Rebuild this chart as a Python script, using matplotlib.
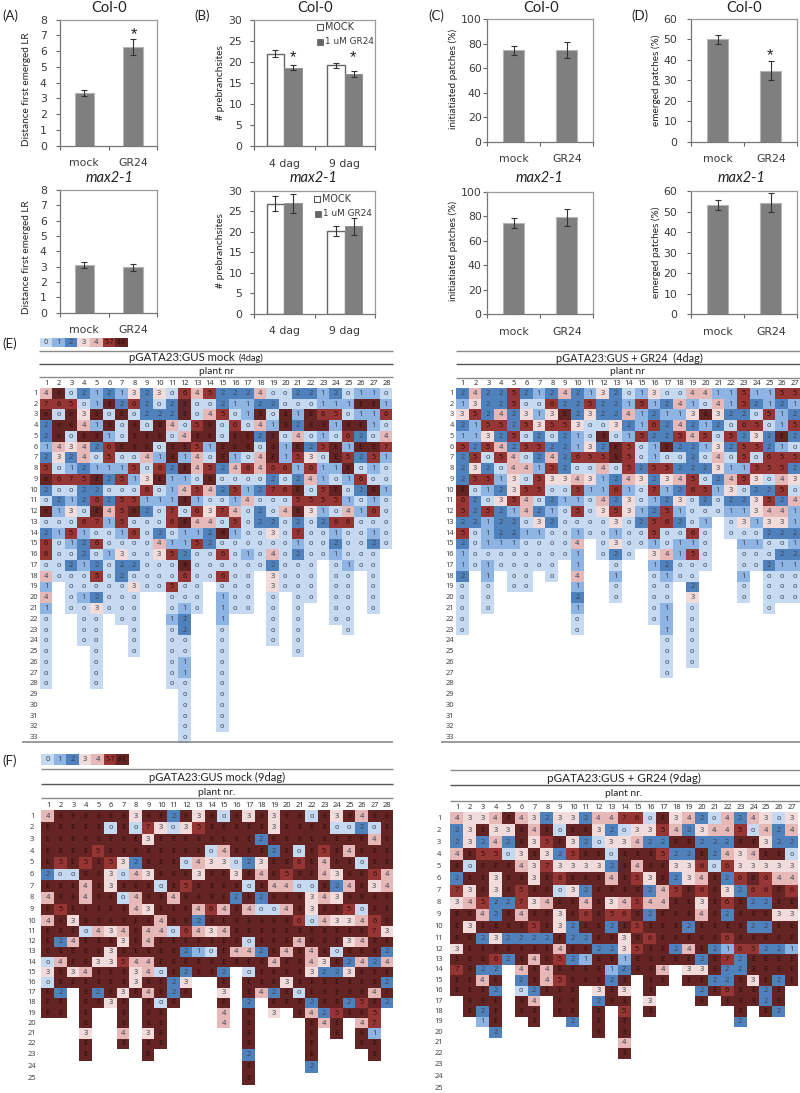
import numpy as np
import matplotlib
matplotlib.use("Agg")
import matplotlib.pyplot as plt
from matplotlib.colors import ListedColormap, BoundaryNorm
from matplotlib.patches import Rectangle

# ---------- data ----------
treatments = ['mock', 'GR24']
days = ['4 dag', '9 dag']
series_names = ['MOCK', '1 uM GR24']

a_col = [3.35, 6.25];  a_col_err = [0.18, 0.5]
a_max = [3.1, 2.95];   a_max_err = [0.2, 0.2]
b_col_mock = [22.0, 19.3]; b_col_mock_err = [0.9, 0.6]
b_col_gr = [18.7, 17.1];   b_col_gr_err = [0.5, 0.7]
b_max_mock = [26.8, 20.1]; b_max_mock_err = [1.8, 1.2]
b_max_gr = [26.9, 21.3];   b_max_gr_err = [2.3, 2.0]
c_col = [74.7, 75.0];  c_col_err = [3.5, 6.8]
c_max = [74.3, 79.0];  c_max_err = [4.0, 6.8]
d_col = [50.0, 34.7];  d_col_err = [2.2, 4.7]
d_max = [53.2, 54.5];  d_max_err = [2.4, 4.7]

legend_labels = ['0', '1', '2', '3', '4', '5-7', '8-E']

e_mock = [
"4eo21 21323 o6452 224oo 2212o 11o",
"765o1 E262o 2Eoo2 1122o oo111 EE1",
"eoe3E oEo22 2Eo45 o1EoE 1E65o 116",
"2ee41 EoEo8 4o5Eo 6o41E 2EE1E E1o",
"2eoEE 1oEEE o4EEo EE2Eo 4o1o6 2o4",
"14342 6EEEo EE51E E8o81 E25E1 EE7",
"2324o 5oo41 E14oE 1o4E1 53oE5 251",
"5o121 115o6 2E452 46466 16118 o1o",
"e675E 2513E 11o8o ooo2o 241o1 6oo",
"2oo22 ooo6o 14542 51276 Eo5Eo 2E1",
"o2126 25511 1E1oo 14ooo 55551 o1o",
"e13oE 4582o 7o637 4o2o4 831o4 16o",
"ooo67 15ooo 6E44o 5o22o 2o266 ooo",
"2151o o16o2 o1128 1oo3o 7oo1o o1o",
"6o126 oooo4 1152o ooooo 1oo2o o2o",
"6oo2o 13oo3 52oo6 o1o4o 2oo1o oo.",
"oo212 o22oo o8ooo ooo2o oo.o1 oo.",
"4ooo5 o2ooo o6oo6 oo.3o oo.oo .o.",
"1.ooo oo3oo 5oo.o oo.3o oo.oo .o.",
"4.o12 ooo.. ooo.1 oo.o. oo.oo .o.",
"1.oo3 ooo.. o1o.1 oo.o. o..oo .o.",
"o..oo .oo.. 12..1 ...o. o..oo ...",
"o..oo ..o.. o2..o ...o. o...o ...",
"o..oo ..o.. oo..o ...o. o.... ...",
"o...o ..o.. oo..o ..... o.... ...",
"o...o ..... o1..o ..... ..... ...",
"o...o ..... o1..o ..... ..... ...",
"o...o ..... oo..o ..... ..... ...",
"..... ..... .o..o ..... ..... ...",
"..... ..... .o..o ..... ..... ...",
"..... ..... .o..o ..... ..... ...",
"..... ..... .o..o ..... ..... ...",
"..... ..... .o... ..... ..... ...",
]

e_gr = [
"24225 21242 132o1 3oo44 11511 55",
"13225 oo622 52215 1241o 41521 21",
"35242 313E2 32241 2113E 322o5 12",
"21552 53553 oo321 62421 2o65o 15",
"11325 o2o21 oEo15 22545 o5232 E2",
"52542 55221 32E5o 1E221 32552 1o",
"25o54 o2426 5585o 1oo2o 4o5o6 55",
"232o4 4152o o4o52 55222 31155 52",
"25513 o5334 31243 2345o 2453o 43",
"Eo123 55oo5 1161o 71265 13o22 5o",
"62o35 4o211 o423o 123o2 o2235 24",
"52521 421o5 o3531 251oo o1134 41",
"22122 o32oo oo3o2 562o1 .o313 31",
"5o122 11oo1 oo1oo 5oo6o .ooo2 22",
"2o111 oooo4 .o3oo 1o11o ..11o o1",
"1oooo oooo1 .o2o. 3415o ..ooo 22",
"1o1oo ooo.1 ..o.. 12ooo ..oo2 11",
"2.1.o o.o.4 ..1.. o1oo. ..1.o oo",
"o.o.o o...1 ..o.. oo.2. ..o.o oo",
"o.o.. ....2 ..o.. oo.3. ..o.o oo",
"o.o.. ....1 ..... o1.o. ....o ..",
"o.... ....o ..... o1.o. ..... ..",
"o.... ....o ..... .1.o. ..... ..",
"..... ..... ..... .o.o. ..... ..",
"..... ..... ..... .o.o. ..... ..",
"..... ..... ..... .o.o. ..... ..",
"..... ..... ..... .o... ..... ..",
]

f_mock = [
"4EEEE EE3EE 2E3Eo E3E3E EoE3E 4EE",
"EEEEE oEo73 o35EE EEE3E EEEoo 2oE",
"EEEEE EEE3E EEEEE EE2EE EEEEE E4E",
"EEEE5 EEEEE EEEo4 EEE2E oE5E4 EEE",
"E5E5E 532EE Eo433 o23EE 6E4EE oEE",
"2ooEE 3o43E EE3EE 3E4E5 EE43E E64",
"EEE4E 3EEEo E5EEE EoE44 ooE24 E34",
"4EE4E Eo4EE 4EEEE 2E2EE E343E EEE",
"E5EEE EE43E EE464 E4oo4 E3EE5 oEE",
"4E3EE EEEE4 EE2EE EEEEE 6o433 46E",
"EEEo4 34E44 o6434 EEEEE EEEEE E73",
"E24EE E3E4E EEEEE EoEEE 4EEE3 4EE",
"EEEEE 3EEEE E21oE 442E4 E4EoE EE2",
"o4EE3 3544E EEEEE EEE4E E43E2 424",
"3E34E EE34o E2EE2 .oEEE E3223 EEE",
"oEEEE EE3EE 23..E .EEE3 EEEEE EE2",
"E2.E2 E3E4E 2E..3 .E42E oEEEE E4E",
"EE.EE 3E.Eo E...E .2.EE E2EE2 5E2",
"EE.E. .E.EE ....4 .E.3. E425E E5.",
"...E. .E.EE ....4 .E... .E4E. 47.",
"...3. .4.3E ..... .E... .E.E. E1.",
"...E. .E.EE ..... .E... .E... EE.",
"...E. ...8. ..... .2... .E... .E.",
"..... ..... ..... .E... .2... ...",
"..... ..... ..... .E... ..... ...",
]

f_gr = [
"4334E 43233 24476 oE342 o4243 o3",
"23E33 E4EoE E32o3 35423 445o4 24",
"23242 E35E3 2o334 22EE2 22EE3 22",
"4E55o 3E325 EEoEE E522E 2434E Eo",
"EoEEE 43733 332E4 EE336 o6333 33",
"2EE3E E3E6E EE4E5 3E234 E2686 44",
"73E3E 5EEo3 2EEEE 245E6 E3266 E6",
"34522 734EE 4E345 44EE3 E6E22 EE",
"EE42E 4EE3E 6E56E 2EEE4 E2EEE 33",
"E3E8E E5E32 EE2E5 EEE2E EEE22 EE",
"EE232 222E2 2EE3E 6EEEE E6EEE EE",
"3EEEE EEE4E E2235 EE24E 21652 21",
"EEE62 E4E52 1EE1E EEEE2 E72EE EE",
"7E22. 4E4EE EE12E E4.33 E22EE EE",
"EE4E. 2E45E EE2E. EE.EE 22E3E 2E",
"EEE2. o2EEE .3E3. E...2 E6EE2 E.",
".EEE. E4.EE .2EE. 3...E .EEE2 E.",
".E2E. EE.EE .E.5. E.... ..E.E 2.",
"..1E. .E..2 .E.E. ..... ..2.. ..",
"...2. ..... .E.E. ..... ..... ..",
"..... ..... ...4. ..... ..... ..",
"..... ..... ...E. ..... ..... ..",
]

# ---------- styling ----------
W, H = 800, 1093
LABEL_FONT = ['Lato', 'DejaVu Sans']
CELL_FONT = ['Noto Sans', 'DejaVu Sans']
BAR_GREY = '#7f7f7f'
FRAME = '#9c9c9c'
DARK_TEXT = '#2e0d0d'
palette = ['#c5d9f1', '#8db4e2', '#4f81bd', '#f2dcdb', '#e6b8b7', '#963634', '#632423']
code = {'o': 0, '1': 1, '2': 2, '3': 3, '4': 4, '5': 5, '6': 5, '7': 5,
        '8': 6, 'E': 6, 'e': 6}
cmap = ListedColormap(palette)
cmap.set_bad('white')
norm = BoundaryNorm(np.arange(-0.5, 7.5), 7)

fig = plt.figure(figsize=(W / 100, H / 100), dpi=100)
canvas = fig.add_axes([0, 0, 1, 1])
canvas.set_xlim(0, W)
canvas.set_ylim(H, 0)
canvas.axis('off')


def px_axes(l, t, r, b):
    ax = fig.add_axes([l / W, 1 - b / H, (r - l) / W, (b - t) / H])
    ax.patch.set_alpha(0)
    return ax


def style(ax, ymax, ystep, names, ypad):
    ax.set_xlim(0, 2)
    ax.set_ylim(0, ymax)
    ax.set_yticks(np.arange(0, ymax + 0.01, ystep))
    ax.set_xticks([0, 1, 2])
    ax.set_xticklabels([])
    ax.set_xticks([0.5, 1.5], minor=True)
    ax.set_xticklabels(names, minor=True)
    ax.tick_params(axis='x', which='minor', length=0, pad=9, labelsize=7.8, labelcolor='#3a3a3a')
    ax.tick_params(axis='x', which='major', length=3, width=0.8, color='#666666')
    ax.tick_params(axis='y', length=3, width=0.8, color='#666666', labelsize=7.8,
                   labelcolor='#3a3a3a', pad=ypad)
    for s in ax.spines.values():
        s.set_color(FRAME)
        s.set_linewidth(0.9)
    ax.spines['left'].set_color('#777777')
    ax.spines['bottom'].set_color('#777777')


def single(box, vals, errs, ymax, ystep, ylabel, lx, ly, ypad, lsize=7.2):
    ax = px_axes(*box)
    ax.bar([0.5, 1.5], vals, width=0.4, color=BAR_GREY, edgecolor='#b5b5b5', linewidth=0.8,
           yerr=errs, error_kw=dict(ecolor='#333333', elinewidth=0.8, capsize=2.2, capthick=0.8))
    style(ax, ymax, ystep, treatments, ypad)
    canvas.text(lx, ly, ylabel, rotation=90, ha='center', va='center', fontsize=lsize,
                family=LABEL_FONT, color='#222222')
    return ax


def double(box, v1, e1, v2, e2, ymax, ystep, ylabel, lx, ly, legend_x, legend_y):
    ax = px_axes(*box)
    ek = dict(ecolor='#333333', elinewidth=0.8, capsize=2.2, capthick=0.8)
    ax.bar([0.355, 1.355], v1, width=0.285, color='white', edgecolor='#666666', linewidth=1.0, yerr=e1, error_kw=ek)
    ax.bar([0.645, 1.645], v2, width=0.285, color=BAR_GREY, edgecolor='#8c8c8c', linewidth=0.6, yerr=e2, error_kw=ek)
    style(ax, ymax, ystep, days, 5.5)
    canvas.text(lx, ly, ylabel, rotation=90, ha='center', va='center', fontsize=7.4,
                family=LABEL_FONT, color='#222222')
    x0, x1 = legend_x
    canvas.add_patch(Rectangle((x0, legend_y[0] - 3), 6, 6, fc='white', ec='#555555', lw=0.8))
    canvas.add_patch(Rectangle((x1, legend_y[1] - 3), 6, 6, fc='#666666', ec='#666666', lw=0.6))
    canvas.text(x0 + 8, legend_y[0], series_names[0], va='center', fontsize=6.9, color='#3a3a3a')
    canvas.text(x1 + 8, legend_y[1], series_names[1], va='center', fontsize=6.4, color='#3a3a3a')
    return ax


def heat(rows, ncol, x1, dx, ys, rule_xs, rule_ys, titles, plant, plant_xy, head_y, label_x, label_ha, bottom=None):
    compact = [''.join(r.split()) for r in rows]
    assert all(len(r) == ncol for r in compact), [len(r) for r in compact]
    padded = compact + ['.' * ncol] * (len(ys) - len(compact))
    grid = np.ma.masked_invalid(np.array(
        [[code.get(c, np.nan) for c in r] for r in padded], dtype=float))
    xe = x1 + dx * (np.arange(ncol + 1) - 0.5)
    ye = np.concatenate([[ys[0] - (ys[1] - ys[0]) / 2],
                         (np.array(ys[:-1]) + np.array(ys[1:])) / 2,
                         [ys[-1] + (ys[-1] - ys[-2]) / 2]])
    canvas.pcolormesh(xe, ye, grid, cmap=cmap, norm=norm, linewidth=0, rasterized=True)
    for i, r in enumerate(padded):
        canvas.text(label_x, ys[i], str(i + 1), ha=label_ha, va='center', fontsize=5.4,
                    family=CELL_FONT, color='#444444')
        for j, c in enumerate(r):
            if c != '.':
                col = DARK_TEXT if code[c] >= 5 else '#3f4450'
                canvas.text(x1 + dx * j, ys[i], c, ha='center', va='center', fontsize=5.4,
                            family=CELL_FONT, color=col)
    for j in range(ncol):
        canvas.text(x1 + dx * j + 0.5, head_y, str(j + 1), ha='center', va='center', fontsize=5.4,
                    family=CELL_FONT, color='#333333')
    for k, y in enumerate(rule_ys):
        canvas.plot(rule_xs, [y, y], color='#8a8a8a' if k != 1 else '#555555', lw=1.0, solid_capstyle='butt')
    if bottom is not None:
        canvas.plot(bottom, [742, 742], color='#808080', lw=1.1, solid_capstyle='butt')
    for txt, x, y, fs, ha in titles:
        canvas.text(x, y, txt, ha=ha, va='center', fontsize=fs, family=LABEL_FONT, color='#222222')
    canvas.text(plant_xy[0], plant_xy[1], plant, ha='center', va='center', fontsize=7.4,
                family=LABEL_FONT, color='#222222')


def heat_legend(x0, x1, y0, y1):
    xe = np.linspace(x0, x1, 8)
    canvas.pcolormesh(xe, [y0, y1], np.arange(7)[None, :], cmap=cmap, norm=norm, rasterized=True)
    for i, t in enumerate(legend_labels):
        canvas.text((xe[i] + xe[i + 1]) / 2, (y0 + y1) / 2, t, ha='center', va='center',
                    fontsize=5.4 if len(t) == 1 else 4.6, family=CELL_FONT,
                    color=DARK_TEXT if i >= 5 else '#3f4450')


def stack(*parts):
    """Row centres, from (first centre, step, count) runs, in pixels."""
    out = []
    for start, step, n in parts:
        out += list(start + step * np.arange(n))
    return out


# ---------- bar panels ----------
single((60, 19.7, 157.3, 145.7), a_col, a_col_err, 8, 1, 'Distance first emerged LR', 27, 89, 6.5)
single((60, 190, 157.3, 312.7), a_max, a_max_err, 8, 1, 'Distance first emerged LR', 27, 257, 6.5)
double((254, 20, 375, 146.3), b_col_mock, b_col_mock_err, b_col_gr, b_col_gr_err, 30, 5,
       '# prebranchsites', 220.7, 83, (317, 317), (27, 41.7))
double((254, 190.7, 375, 313.7), b_max_mock, b_max_mock_err, b_max_gr, b_max_gr_err, 30, 5,
       '# prebranchsites', 220.7, 251, (314, 315), (199.3, 214))
single((487.3, 19.3, 593.3, 141.7), c_col, c_col_err, 100, 20, 'initiatiated patches (%)', 453.3, 79, 1.0)
single((487.3, 191.7, 593.3, 314), c_max, c_max_err, 100, 20, 'initiatiated patches (%)', 453.3, 251, 1.0)
single((691.3, 19, 797.3, 141.7), d_col, d_col_err, 60, 10, 'emerged patches (%)', 656.7, 80, 7.0)
single((691.3, 191.3, 797.3, 314), d_max, d_max_err, 60, 10, 'emerged patches (%)', 656.7, 252.7, 7.0)

for x in (109, 315, 540.7, 744):
    canvas.text(x, 7.5, 'Col-0', ha='center', va='center', fontsize=10.5, family=LABEL_FONT, color='#222222')
for x in (110, 313, 539, 742):
    canvas.text(x, 178, 'max2-1', ha='center', va='center', fontsize=10.5, style='italic',
                family=LABEL_FONT, color='#222222')
for txt, x, y in [('(A)', 10, 15.5), ('(B)', 202.5, 15.5), ('(C)', 436, 15.7), ('(D)', 640, 15.7),
                  ('(E)', 9.5, 344), ('(F)', 9.5, 760.7)]:
    canvas.text(x, y, txt, ha='center', va='center', fontsize=9.5, family=LABEL_FONT, color='#222222')
for x, y in [(134, 35), (292.7, 58), (353, 58), (770, 56)]:
    canvas.text(x, y, '*', ha='center', va='center', fontsize=12, family=['Liberation Sans'], color='#222222')

# ---------- heat maps ----------
rows_e = stack((393.3, 10.76, 33))
heat_legend(39.5, 128, 338, 346.7)
heat(e_mock, 28, 46, 12.59, rows_e, [39, 393], [350.7, 364.3, 377.3],
     [('pGATA23:GUS mock', 235, 357.5, 8.2, 'right'), ('(4dag)', 238.5, 358.5, 6.6, 'left')],
     'plant nr', (216, 372), 383.7, 38, 'right', bottom=[22, 393])
heat(e_gr, 27, 462.3, 12.78, rows_e, [455.7, 800], [350.7, 364.3, 377.7],
     [('pGATA23:GUS + GR24  (4dag)', 629, 358, 7.8, 'center')],
     'plant nr', (627, 372), 383.7, 454, 'right', bottom=[441, 800])

rows_f1 = stack((816, 11.7, 9), (921.3, 10.2, 13), (1055, 12, 3))
heat_legend(41, 129, 754, 764.7)
heat(f_mock, 28, 47.7, 12.56, rows_f1, [41, 393], [769, 784, 798.3],
     [('pGATA23:GUS mock (9dag)', 216.7, 777.3, 8.0, 'center')],
     'plant nr.', (216.7, 792.7), 805.7, 32, 'center')
rows_f2 = stack((818.3, 12.04, 10), (938.7, 10.4, 12), (1064.3, 12.2, 3))
heat(f_gr, 27, 456.7, 12.88, rows_f2, [450, 800], [769.7, 785, 800.7],
     [('pGATA23:GUS + GR24 (9dag)', 624, 778, 8.4, 'center')],
     'plant nr.', (624, 793.7), 807.3, 439, 'center')

canvas.set_xlim(0, W)
canvas.set_ylim(H, 0)
fig.savefig('out.png', dpi=100)
